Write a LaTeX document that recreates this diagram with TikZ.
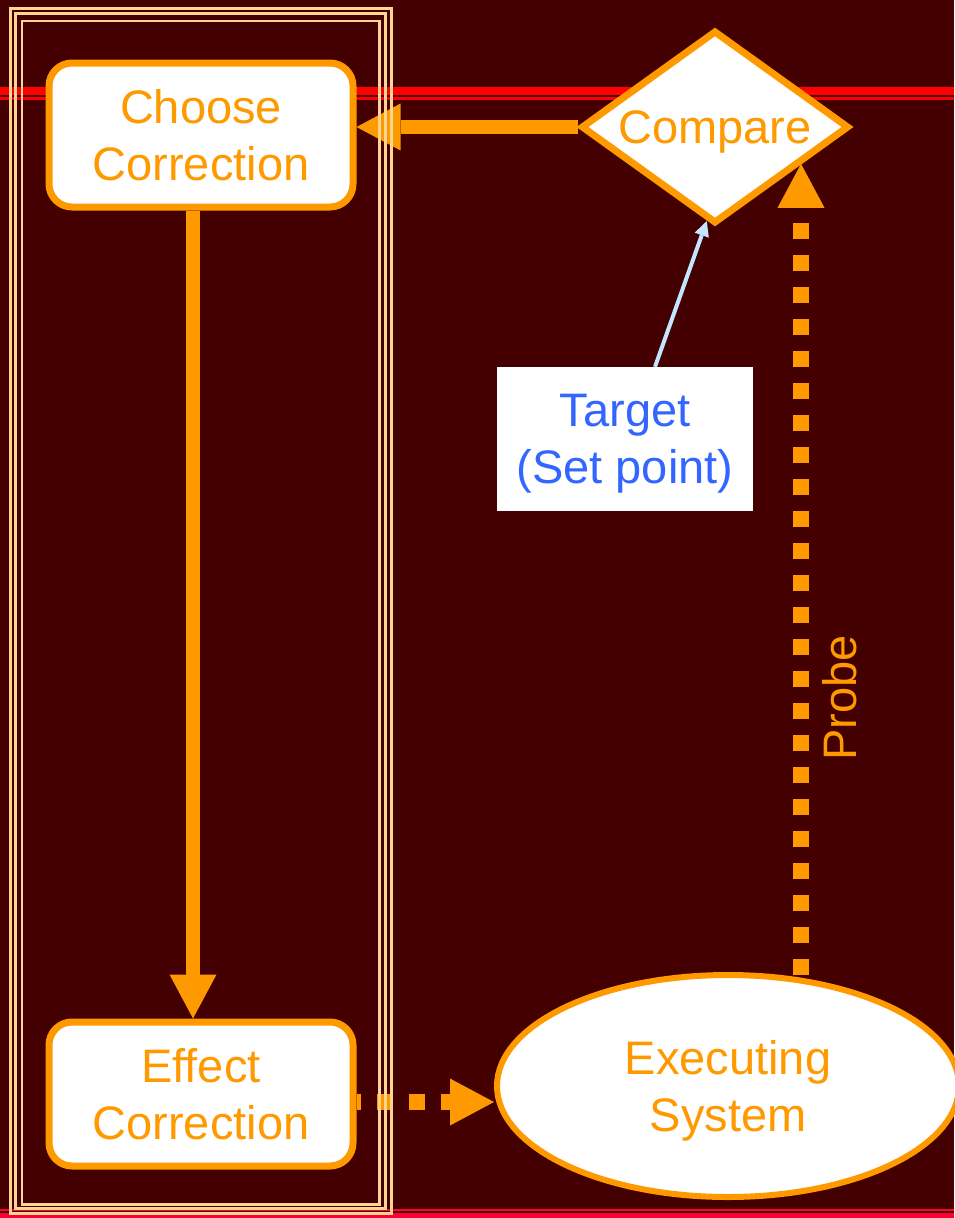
\documentclass[tikz,border=0pt]{standalone}
\usepackage{fontspec}
\setmainfont{Liberation Sans}
\usepackage{xcolor}
\usepackage{tikz}
\usetikzlibrary{shapes.geometric,arrows.meta,positioning}

\definecolor{bgmaroon}{HTML}{440000}
\definecolor{flowor}{HTML}{FF9900}
\definecolor{frametan}{HTML}{FFD591}
\definecolor{targetblue}{HTML}{3366FF}
\definecolor{skyline}{HTML}{C2E6FF}
\definecolor{crimson}{HTML}{FF0033}

\begin{document}
\begin{tikzpicture}[
    x=1pt, y=-1pt,
    font=\fontsize{47}{57}\selectfont,
    stepbox/.style={rectangle, rounded corners=23pt, draw=flowor, line width=7pt,
                    fill=white, text=flowor, align=center, inner sep=0pt, text depth=0pt,
                    minimum width=304pt, minimum height=144pt},
    decide/.style={diamond, shape aspect=1.4, draw=flowor, line width=7pt, fill=white,
                   text=flowor, inner sep=0pt, text depth=0pt,
                   minimum width=268pt, minimum height=193pt},
    plant/.style={ellipse, draw=flowor, line width=6pt, fill=white, text=flowor,
                  align=center, inner sep=0pt, text depth=0pt,
                  minimum width=462pt, minimum height=222pt},
    setbox/.style={rectangle, fill=white, text=targetblue, align=center, text depth=0pt,
                   minimum width=256pt, minimum height=144pt},
    bigarr/.style={-{Triangle[length=44pt,width=47pt,line width=0pt]}, draw=flowor, line width=14pt},
    dotarr/.style={bigarr, line width=16pt, dash pattern=on 16pt off 16pt},
    thinarr/.style={-{Triangle[length=15pt,width=15pt,line width=0pt]}, draw=skyline, line width=4pt},
    rim/.style={draw=frametan, line width=3pt}
]

%% canvas and red rules
\useasboundingbox (0,0) rectangle (954,1218);
\fill[bgmaroon] (0,0) rectangle (954,1218);
\draw[red, line width=8pt]       (0,91)   -- (954,91);
\draw[red, line width=2.5pt]     (0,98.3) -- (954,98.3);
\draw[crimson, line width=2pt]   (0,1210) -- (954,1210);
\draw[crimson, line width=6pt]   (0,1216) -- (954,1216);

%% controller column
\node[stepbox] (choose_corr) at (201,135)            {Choose\\Correction};
\node[stepbox, below=808pt of choose_corr] (effect_corr) {Effect\\Correction};

%% loop on the right
\node[decide] (compare)  at (715,127)  {Compare};
\node[plant]  (exec_sys) at (728,1086) {Executing\\System};
\node[setbox] (target)   at (625,439)  {Target\\(Set point)};

%% connectors
\draw[bigarr] (compare.west) -- (compare.west -| choose_corr.east);
\draw[bigarr] ([xshift=-8pt]choose_corr.south) -- ([xshift=-8pt]effect_corr.north);
\draw[dotarr, dash phase=12pt] ([yshift=-8pt]effect_corr.east)
      -- ([yshift=-8pt]effect_corr.east -| exec_sys.west);
\draw[dotarr, dash phase=29pt] (exec_sys.56) -- (exec_sys.56 |- compare.-23)
      node[pos=.344, rotate=90, anchor=north, text=flowor, inner xsep=0pt,
           inner ysep=21pt, outer sep=0pt] {Probe};
\draw[thinarr] ([xshift=30pt]target.north) -- (compare.-95);

%% frame round the controller column
\draw[rim] (10.5,8.5) rectangle (391,1213.5);
\draw[rim] (15,13.5) rectangle (385,1208.5);
\draw[rim, line width=2.5pt] (22,21) rectangle (379.5,1204.5);

\end{tikzpicture}
\end{document}
